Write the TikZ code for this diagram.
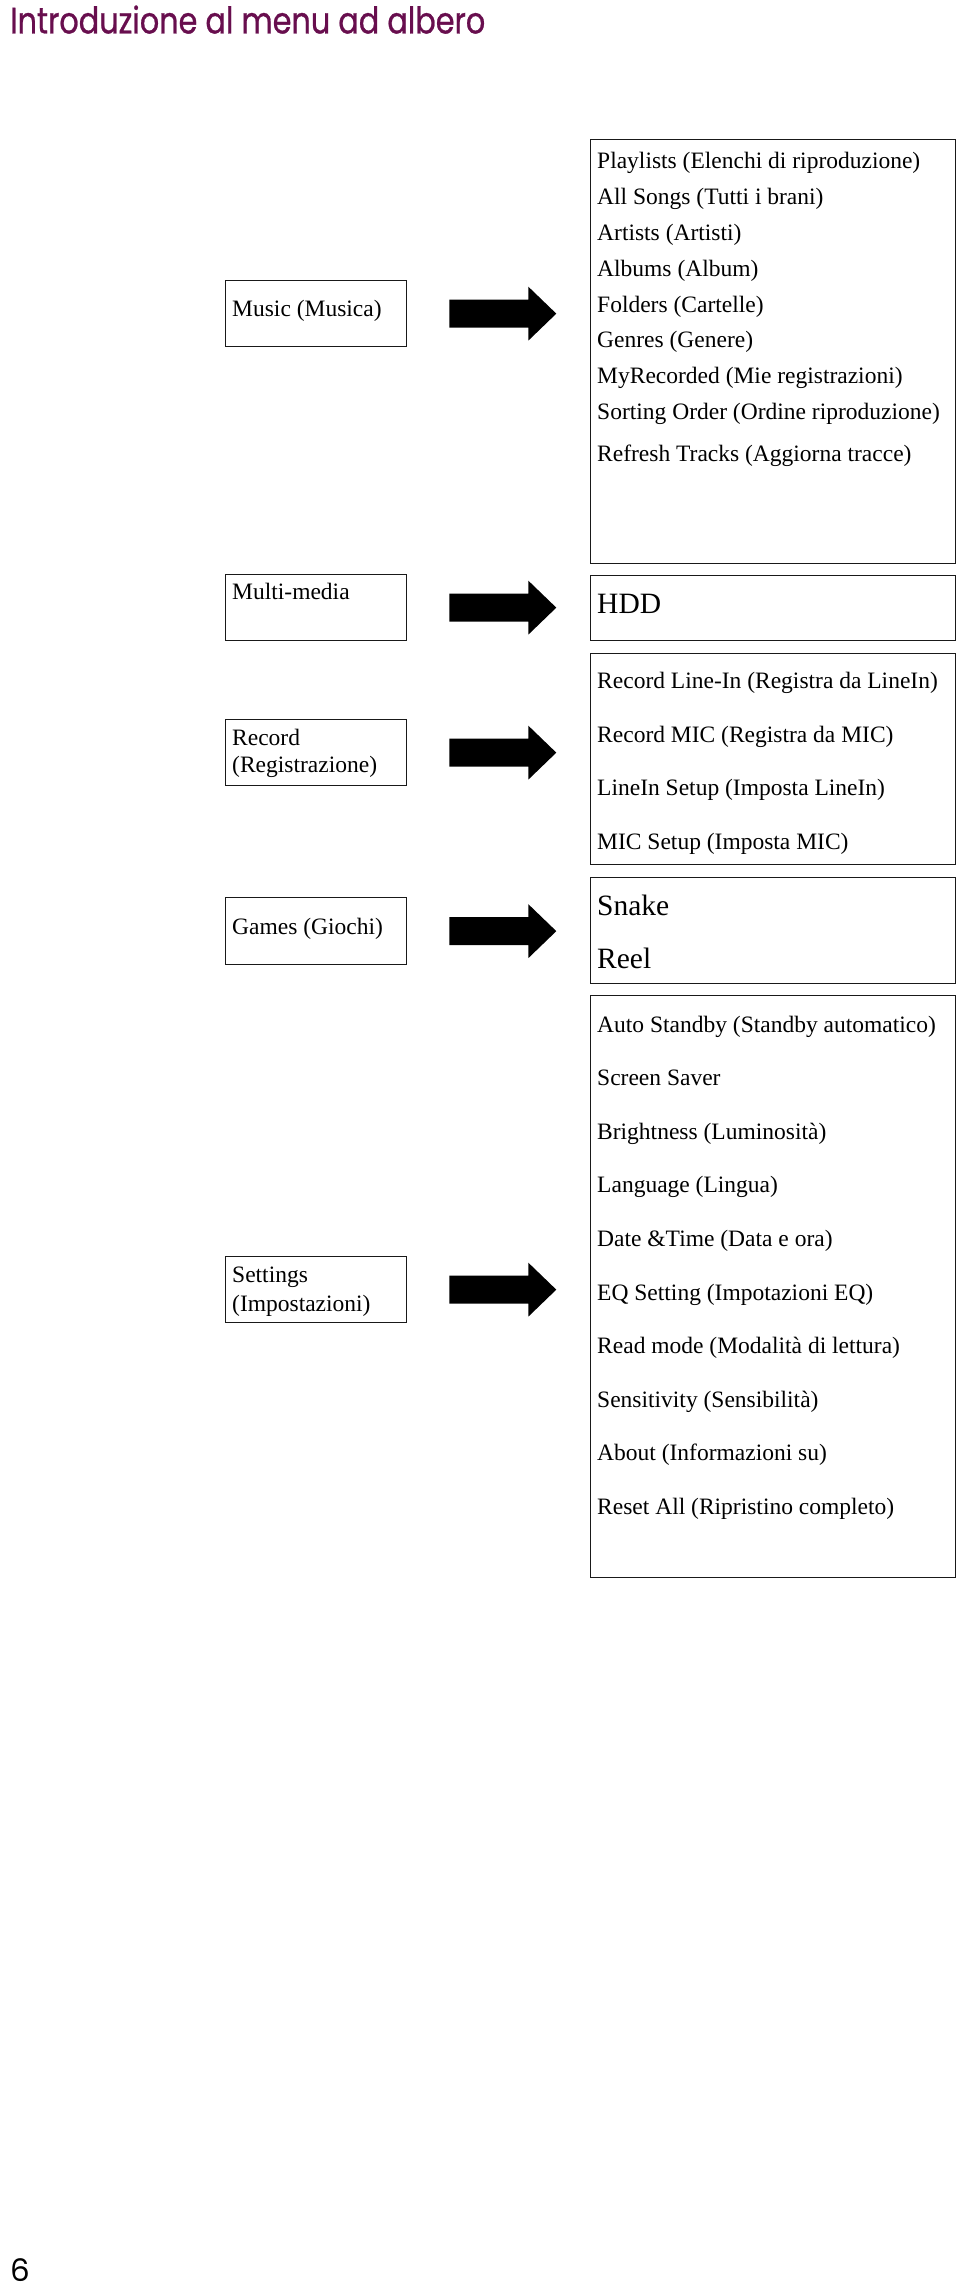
\documentclass[tikz,border=0pt]{standalone}
\usepackage{graphicx}
\usepackage{fontspec}
\setmainfont{Liberation Serif}
\newfontfamily\titlefont[FakeBold=0.8]{Poppins}
\newfontfamily\numfont{Poppins}
\usetikzlibrary{calc}
\definecolor{titlecol}{RGB}{104,14,78}
\newcommand\mymenuarrow[1]{\fill[arrowfill] ($(#1.east)+(42,-14)$) -- ++(79,0) -- ++(0,-13) -- ++(28,27) -- ++(-28,27) -- ++(0,-13) -- ++(-79,0) -- cycle;}
\begin{document}
\begin{tikzpicture}[x=1pt,y=-1pt,
  box/.style={draw=black!90,line width=1.3pt,inner sep=0pt,anchor=north west},
  lbox/.style={box,minimum width=181pt},
  rbox/.style={box,minimum width=365pt},
  txt/.style={anchor=base west,inner sep=0pt,font=\fontsize{23.5}{28}\selectfont},
  bigtxt/.style={anchor=base west,inner sep=0pt,font=\fontsize{29.5}{34}\selectfont},
  arrowfill/.style={fill=black}]
\useasboundingbox[fill=white] (0,0) rectangle (960,2290);

% title and page number
\node[anchor=south west,inner sep=0pt,text=titlecol] (title) at (10,34)
  {\resizebox{475pt}{28pt}{\titlefont Introduzione al menu ad albero}};
\node[anchor=base west,inner sep=0pt] (pagenum) at (10,2281)
  {\numfont\fontsize{31}{31}\selectfont 6};

% left boxes
\node[lbox,minimum height=66pt] (music) at (225,280) {};
\node[txt] (musict) at (232,316.7) {Music (Musica)};
\node[lbox,minimum height=66pt] (multi) at (225,574) {};
\node[txt] (multit) at (232,599) {Multi-media};
\node[lbox,minimum height=66pt] (record) at (225,719) {};
\node[txt] (recordt1) at (232,745) {Record};
\node[txt] (recordt2) at (232,772.5) {(Registrazione)};
\node[lbox,minimum height=67pt] (games) at (225,897) {};
\node[txt] (gamest) at (232,934) {Games (Giochi)};
\node[lbox,minimum height=66pt] (settings) at (225,1256) {};
\node[txt] (settingst1) at (232,1282.5) {Settings};
\node[txt] (settingst2) at (232,1311) {(Impostazioni)};

% right boxes
\node[rbox,minimum height=424pt] (musiclist) at (590,139) {};
\node[rbox,minimum height=65pt] (hdd) at (590,575) {};
\node[rbox,minimum height=211pt] (reclist) at (590,653) {};
\node[rbox,minimum height=106pt] (gameslist) at (590,877) {};
\node[rbox,minimum height=582pt] (setlist) at (590,995) {};

% music list
\foreach \t [count=\i from 0] in {Playlists (Elenchi di riproduzione),All Songs (Tutti i brani),Artists (Artisti),Albums (Album),Folders (Cartelle),Genres (Genere),MyRecorded (Mie registrazioni),Sorting Order (Ordine riproduzione)}
  \node[txt] (ml\i) at (597,169+35.8*\i) {\t};
\node[txt] (ml8) at (597,461.5) {Refresh Tracks (Aggiorna tracce)};

% multimedia
\node[bigtxt] (hddt) at (597,613.3) {HDD};

% record list
\foreach \t [count=\i from 0] in {Record Line-In (Registra da LineIn),Record MIC (Registra da MIC),LineIn Setup (Imposta LineIn),MIC Setup (Imposta MIC)}
  \node[txt] (rl\i) at (597,688.3+53.7*\i) {\t};

% games list
\node[bigtxt] (snake) at (597,915) {Snake};
\node[bigtxt] (reel) at (597,968.3) {Reel};

% settings list
\foreach \t [count=\i from 0] in {Auto Standby (Standby automatico),Screen Saver,Brightness (Luminosità),Language (Lingua),Date \&Time (Data e ora),EQ Setting (Impotazioni EQ),Read mode (Modalità di lettura),Sensitivity (Sensibilità),About (Informazioni su),Reset All (Ripristino completo)}
  \node[txt] (sl\i) at (597,1032+53.6*\i) {\t};

% arrows
\mymenuarrow{music}
\mymenuarrow{multi}
\mymenuarrow{record}
\mymenuarrow{games}
\mymenuarrow{settings}
\end{tikzpicture}
\end{document}
